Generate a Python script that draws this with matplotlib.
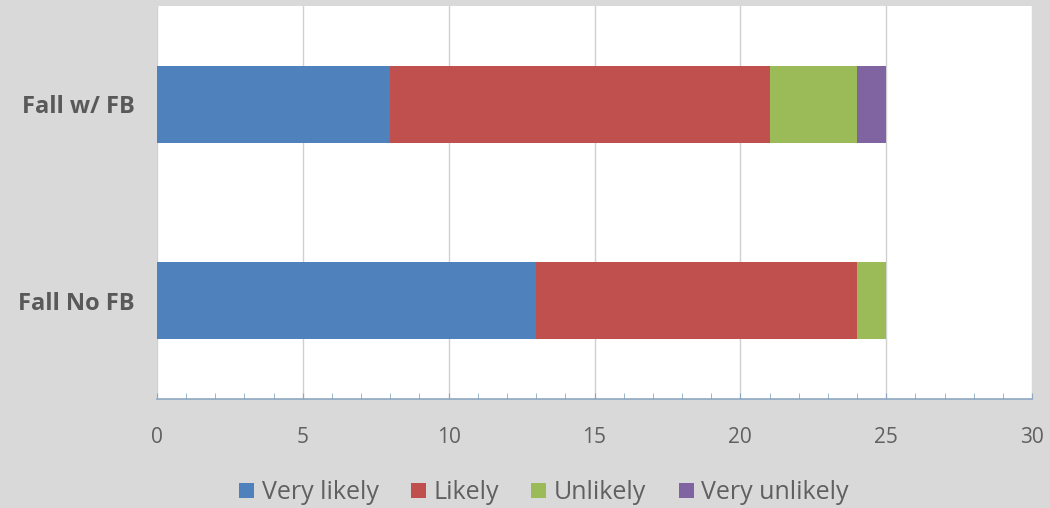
import matplotlib.pyplot as plt
import numpy as np
from matplotlib.ticker import MultipleLocator

categories = ['Fall No FB', 'Fall w/ FB']
series = ['Very likely', 'Likely', 'Unlikely', 'Very unlikely']
values = {
    'Very likely':   [13, 8],
    'Likely':        [11, 13],
    'Unlikely':      [1, 3],
    'Very unlikely': [0, 1],
}
colors = ['#4f81bd', '#c0504d', '#9bbb59', '#8064a2']

plt.rcParams['font.family'] = ['Open Sans', 'DejaVu Sans']

fig = plt.figure(figsize=(10.5, 5.08), dpi=100, facecolor='#d9d9d9')
ax = fig.add_axes([0.1495, 0.2146, 0.8334, 0.7734])
ax.set_facecolor('white')

y = np.arange(len(categories))
left = np.zeros(len(categories))
for name, c in zip(series, colors):
    v = np.array(values[name], dtype=float)
    ax.barh(y, v, left=left, height=0.39, color=c, label=name, zorder=3)
    left += v

ax.set_xlim(0, 30)
ax.set_ylim(-0.5, 1.5)
ax.xaxis.set_major_locator(MultipleLocator(5))
ax.xaxis.set_minor_locator(MultipleLocator(1))
ax.grid(axis='x', which='major', color='#d0d0d0', linewidth=1, zorder=0)

for s in ['top', 'right', 'left']:
    ax.spines[s].set_visible(False)
ax.spines['bottom'].set_color('#8ea8c3')
ax.spines['bottom'].set_linewidth(1.2)

ax.tick_params(axis='x', which='both', direction='in', length=4, color='#8ea8c3',
               labelsize=15, labelcolor='#606060', pad=20)
ax.tick_params(axis='y', length=0, pad=16)
ax.set_yticks(y)
ax.set_yticklabels(categories, fontsize=17, fontweight='bold', color='#595959')

fig.legend(loc='center', bbox_to_anchor=(0.518, 0.03), ncol=4, frameon=False,
           fontsize=18, handlelength=0.6, handleheight=0.6, handletextpad=0.3,
           columnspacing=1.3, labelcolor='#606060')

fig.savefig('out.png', dpi=100, facecolor=fig.get_facecolor())
